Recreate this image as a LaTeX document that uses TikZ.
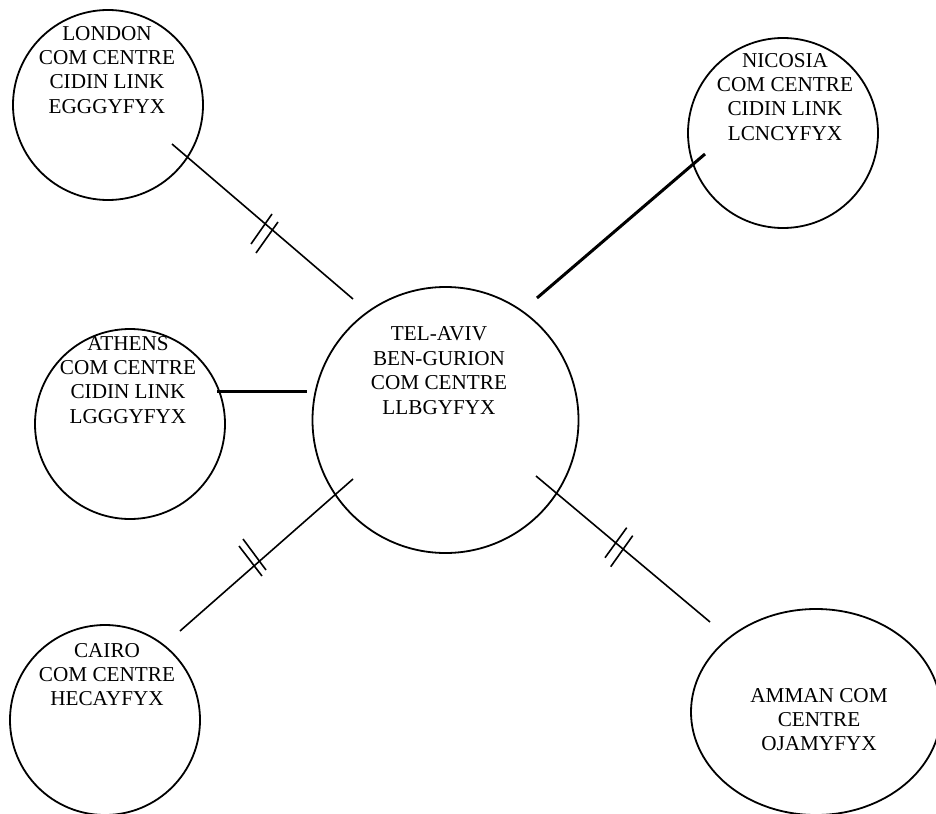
\documentclass[tikz,border=0pt]{standalone}
\usepackage{fontspec}
\setmainfont{Liberation Serif}
\usetikzlibrary{calc,shapes.geometric}
\begin{document}
\begin{tikzpicture}[x=1pt,y=-1pt,
  stn/.style={draw=black, circle, line width=1.8pt, inner sep=0pt, minimum size=#1},
  stnell/.style={draw=black, ellipse, line width=1.8pt, inner sep=0pt},
  lbl/.style={anchor=north, inner sep=0pt, align=center, font=\fontsize{21.2}{24.4}\selectfont},
  thinlink/.style={line width=1.6pt},
  thicklink/.style={line width=3pt},
  ticky/.style={line width=1.6pt}]
\useasboundingbox (0,0) rectangle (936,813);

% stations
\node[stn=190] (lon) at (108,105) {};
\node[stn=190] (nic) at (783,133) {};
\node[stn=190] (ath) at (130,424) {};
\node[stn=266] (tlv) at (445.5,420) {};
\node[stn=190] (cai) at (105,720) {};
\node[stnell, minimum width=250pt, minimum height=206pt] (amm) at (816,712) {};

% texts
\node[lbl] (lont) at (107,25.8) {LONDON\\COM CENTRE\\CIDIN LINK\\EGGGYFYX};
\node[lbl] (nict) at (785,52.8) {NICOSIA\\COM CENTRE\\CIDIN LINK\\LCNCYFYX};
\node[lbl] (atht) at (128,335.8) {ATHENS\\COM CENTRE\\CIDIN LINK\\LGGGYFYX};
\node[lbl] (tlvt) at (439,326.8) {TEL-AVIV\\BEN-GURION\\COM CENTRE\\LLBGYFYX};
\node[lbl] (cait) at (107,642.8) {CAIRO\\COM CENTRE\\HECAYFYX};
\node[lbl] (ammt) at (819,687.8) {AMMAN COM\\CENTRE\\OJAMYFYX};

% connector ends
\coordinate (lonA) at ($(lon)+(64,39)$);
\coordinate (lonB) at ($(tlv)+(-92.5,-121)$);
\coordinate (nicA) at ($(nic)+(-78,21)$);
\coordinate (nicB) at ($(tlv)+(91.5,-122)$);
\coordinate (athA) at ($(ath)+(87,-33)$);
\coordinate (athB) at ($(tlv)+(-138.5,-29)$);
\coordinate (caiA) at ($(cai)+(75,-89)$);
\coordinate (caiB) at ($(tlv)+(-92.5,59)$);
\coordinate (ammA) at ($(amm)+(-106,-90)$);
\coordinate (ammB) at ($(tlv)+(90.5,56)$);

% connectors
\draw[thinlink] (lonA) -- (lonB);
\draw[thicklink] (nicA) -- (nicB);
\draw[thicklink] (athA) -- (athB);
\draw[thinlink] (caiA) -- (caiB);
\draw[thinlink] (ammA) -- (ammB);

% double ticks
\draw[ticky] (272,214) -- (251,244);
\draw[ticky] (278,222) -- (256,253);
\draw[ticky] (243,539) -- (266,570);
\draw[ticky] (239,546) -- (262,576);
\draw[ticky] (626.7,527.7) -- (605,557.7);
\draw[ticky] (632.7,535.7) -- (610.7,566.7);
\end{tikzpicture}
\end{document}
